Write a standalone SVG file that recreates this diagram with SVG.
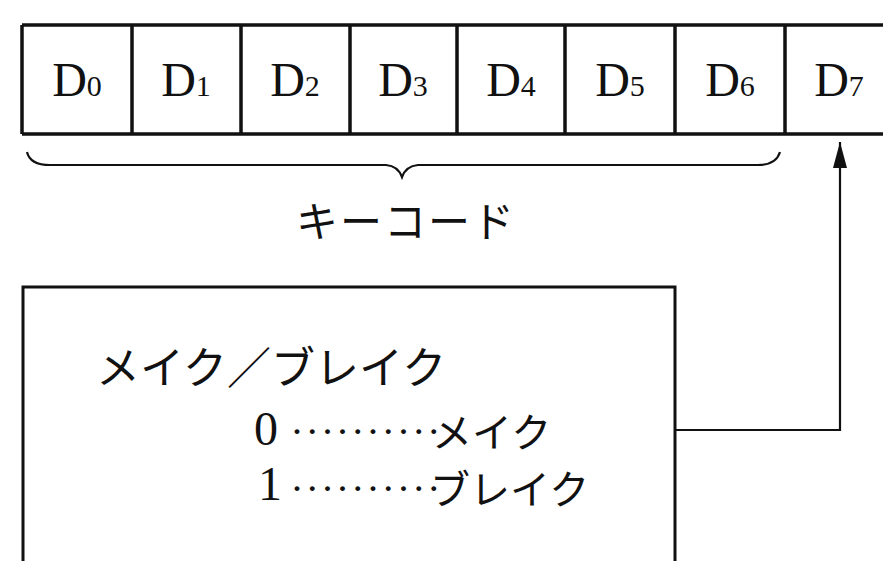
<svg xmlns="http://www.w3.org/2000/svg" width="883" height="561" viewBox="0 0 883 561">
<style>
.cell{fill:none;stroke:#111;stroke-width:3.5}
.ln{fill:none;stroke:#111;stroke-width:2.2}
.d{font-family:"Liberation Serif",serif;font-size:48px;fill:#111}
.s{font-size:30px}
.jp{font-family:"Noto Sans CJK JP",sans-serif;fill:#111}
.num{font-family:"Liberation Serif",serif;font-size:48px;fill:#111}
.dot{font-family:"Liberation Serif",serif;font-size:30px;font-weight:bold;fill:#111;letter-spacing:5.2px}
</style>
<defs>
<marker id="ah" markerUnits="userSpaceOnUse" markerWidth="28" markerHeight="16" refX="26" refY="8" orient="auto" viewBox="0 0 28 16">
<path d="M0,1 L26,8 L0,15 Z" fill="#111"/>
</marker>
</defs>
<rect width="883" height="561" fill="#fff"/>
<g id="register">
<path class="cell" d="M22,25 H883 M22,134 H883 M22,25 V134 M132,25 V134 M241,25 V134 M350,25 V134 M457,25 V134 M565,25 V134 M675,25 V134 M785,25 V134"/>
</g>
<g id="d0"><text class="d" x="77" y="96" text-anchor="middle">D<tspan class="s">0</tspan></text></g>
<g id="d1"><text class="d" x="186" y="96" text-anchor="middle">D<tspan class="s">1</tspan></text></g>
<g id="d2"><text class="d" x="295" y="96" text-anchor="middle">D<tspan class="s">2</tspan></text></g>
<g id="d3"><text class="d" x="403" y="96" text-anchor="middle">D<tspan class="s">3</tspan></text></g>
<g id="d4"><text class="d" x="511" y="96" text-anchor="middle">D<tspan class="s">4</tspan></text></g>
<g id="d5"><text class="d" x="620" y="96" text-anchor="middle">D<tspan class="s">5</tspan></text></g>
<g id="d6"><text class="d" x="730" y="96" text-anchor="middle">D<tspan class="s">6</tspan></text></g>
<g id="d7"><text class="d" x="839" y="96" text-anchor="middle">D<tspan class="s">7</tspan></text></g>
<g id="brace">
<path class="ln" d="M27,152 Q30,165 50,165 H386 Q398,166 402,177 Q406,166 418,165 H758 Q776,165 780,152"/>
<text class="jp" x="296" y="237" font-size="42" letter-spacing="2">キーコード</text>
</g>
<g id="makebreak">
<path class="cell" style="stroke-width:3" d="M23,561 V287 H675 V561"/>
<text class="jp" x="96" y="384" font-size="44">メイク／ブレイク</text>
<text class="num" x="254" y="445">0</text>
<text class="dot" x="292" y="441">··········</text>
<text class="jp" x="432" y="447" font-size="40">メイク</text>
<text class="num" x="258" y="500">1</text>
<text class="dot" x="292" y="498">··········</text>
<text class="jp" x="430" y="504" font-size="40">ブレイク</text>
</g>
<g id="connectors">
<path class="ln" d="M675,430 H840 V142" marker-end="url(#ah)"/>
</g>
</svg>
